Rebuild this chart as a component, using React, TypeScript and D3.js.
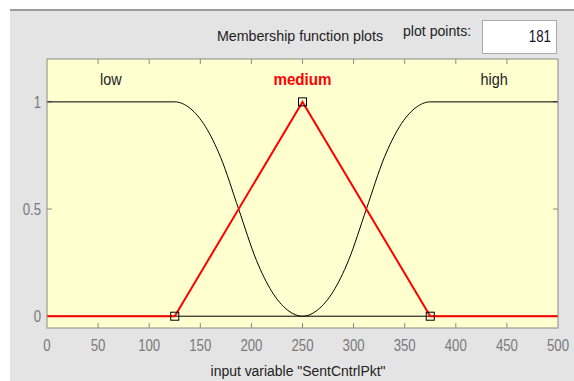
import * as d3 from 'd3';

// Axis ticks
const xTicks = [0, 50, 100, 150, 200, 250, 300, 350, 400, 450, 500];
const yTicks = [0, 0.5, 1];
const yTickLabels = ['0', '0.5', '1'];

// Membership curves, points
const lowX = [0, 125, 140, 155, 170, 187.5, 205, 220, 235, 250, 500];
const lowY = [1, 1, 0.97, 0.885, 0.74, 0.5, 0.26, 0.115, 0.03, 0, 0];
const highX = [0, 250, 265, 280, 295, 312.5, 330, 345, 360, 375, 500];
const highY = [0, 0, 0.03, 0.115, 0.26, 0.5, 0.74, 0.885, 0.97, 1, 1];
const mediumX = [0, 125, 250, 375, 500];
const mediumY = [0, 0, 1, 0, 0];
// Parameter handles of the selected (medium) function
const handleX = [125, 250, 375];
const handleY = [0, 1, 0];

const mfLabels = ['low', 'medium', 'high'];
const mfLabelX = [62.5, 250, 437.5];

const W = 574;
const H = 381;

type TxtProps = {
  x: number;
  y: number;
  size: number;
  sx?: number;
  anchor?: 'start' | 'middle' | 'end';
  fill?: string;
  weight?: string;
  children: React.ReactNode;
};

// text squeezed a bit horizontally, like the screenshot
const Txt = ({ x, y, size, sx = 0.85, anchor = 'start', fill = '#222', weight = 'normal', children }: TxtProps) => (
  <text
    transform={`translate(${x},${y}) scale(${sx},1)`}
    textAnchor={anchor}
    fontSize={size}
    fontWeight={weight}
    fill={fill}
    fontFamily="'Liberation Sans', Arial, sans-serif"
  >
    {children}
  </text>
);

export default function App() {
  const x = d3.scaleLinear().domain([0, 500]).range([47, 558]);
  const y = d3.scaleLinear().domain([-0.055, 1.2]).range([328, 59]);

  const line = d3
    .line<[number, number]>()
    .x(d => x(d[0]))
    .y(d => y(d[1]))
    .curve(d3.curveMonotoneX);
  const poly = d3
    .line<[number, number]>()
    .x(d => x(d[0]))
    .y(d => y(d[1]));

  const zip = (a: number[], b: number[]) => a.map((v, i) => [v, b[i]] as [number, number]);

  const [x0, x1] = x.range();
  const [yb, yt] = y.range();
  const frame = '#8a8a8a';

  return (
    <svg width={W} height={H} style={{ position: 'absolute', left: 0, top: 0 }}>
      <rect x={0} y={0} width={W} height={H} fill="#fff" />
      <rect x={10} y={10} width={W - 10} height={H - 10} fill="#e4e4e4" />
      <line x1={10} x2={W} y1={10} y2={10} stroke="#9a9a9a" strokeWidth={2} />

      {/* header */}
      <Txt x={300} y={41} size={15.5} sx={0.92} anchor="middle">
        Membership function plots
      </Txt>
      <Txt x={403} y={36} size={15} sx={0.94}>
        plot points:
      </Txt>
      <rect x={482.5} y={20.5} width={74} height={33} fill="#fff" stroke="#aaa" />
      <Txt x={551} y={42} size={16} sx={0.83} anchor="end" fill="#1a1030">
        181
      </Txt>

      {/* plot area */}
      <rect x={x0} y={yt} width={x1 - x0} height={yb - yt} fill="#ffffd0" />

      {/* ticks */}
      {xTicks.slice(1, -1).map(t => (
        <g key={'xt' + t} stroke={frame}>
          <line x1={x(t)} x2={x(t)} y1={yt} y2={yt + 5} />
          <line x1={x(t)} x2={x(t)} y1={yb} y2={yb - 5} />
        </g>
      ))}
      {yTicks.map(t => (
        <g key={'yt' + t} stroke={frame}>
          <line x1={x0} x2={x0 + 5} y1={y(t)} y2={y(t)} />
          <line x1={x1} x2={x1 - 5} y1={y(t)} y2={y(t)} />
        </g>
      ))}

      {/* curves */}
      <path d={line(zip(lowX, lowY)) ?? ''} fill="none" stroke="#000" strokeWidth={1} />
      <path d={line(zip(highX, highY)) ?? ''} fill="none" stroke="#000" strokeWidth={1} />
      <path d={poly(zip(mediumX, mediumY)) ?? ''} fill="none" stroke="#ff0000" strokeWidth={2} />
      {handleX.map((h, i) => (
        <rect
          key={'h' + h}
          x={x(h) - 4}
          y={y(handleY[i]) - 4}
          width={8}
          height={8}
          fill="none"
          stroke="#000"
          strokeWidth={1}
        />
      ))}

      <rect x={x0} y={yt} width={x1 - x0} height={yb - yt} fill="none" stroke={frame} />

      {/* MF labels */}
      {mfLabels.map((l, i) => (
        <Txt
          key={l}
          x={x(mfLabelX[i])}
          y={y(1.1) + 5}
          size={16}
          sx={l === 'medium' ? 0.95 : 0.9}
          anchor="middle"
          fill={l === 'medium' ? '#ff0000' : '#222'}
          weight={l === 'medium' ? 'bold' : 'normal'}
        >
          {l}
        </Txt>
      ))}

      {/* tick labels */}
      {yTicks.map((t, i) => (
        <Txt key={'yl' + t} x={41} y={y(t) + 6} size={16.5} sx={0.8} anchor="end" fill="#7a7a7a">
          {yTickLabels[i]}
        </Txt>
      ))}
      {xTicks.map(t => (
        <Txt key={'xl' + t} x={x(t)} y={351} size={16.5} sx={0.8} anchor="middle" fill="#7a7a7a">
          {t}
        </Txt>
      ))}
      <Txt x={298} y={376} size={15.5} sx={0.9} anchor="middle">
        input variable "SentCntrlPkt"
      </Txt>
    </svg>
  );
}
